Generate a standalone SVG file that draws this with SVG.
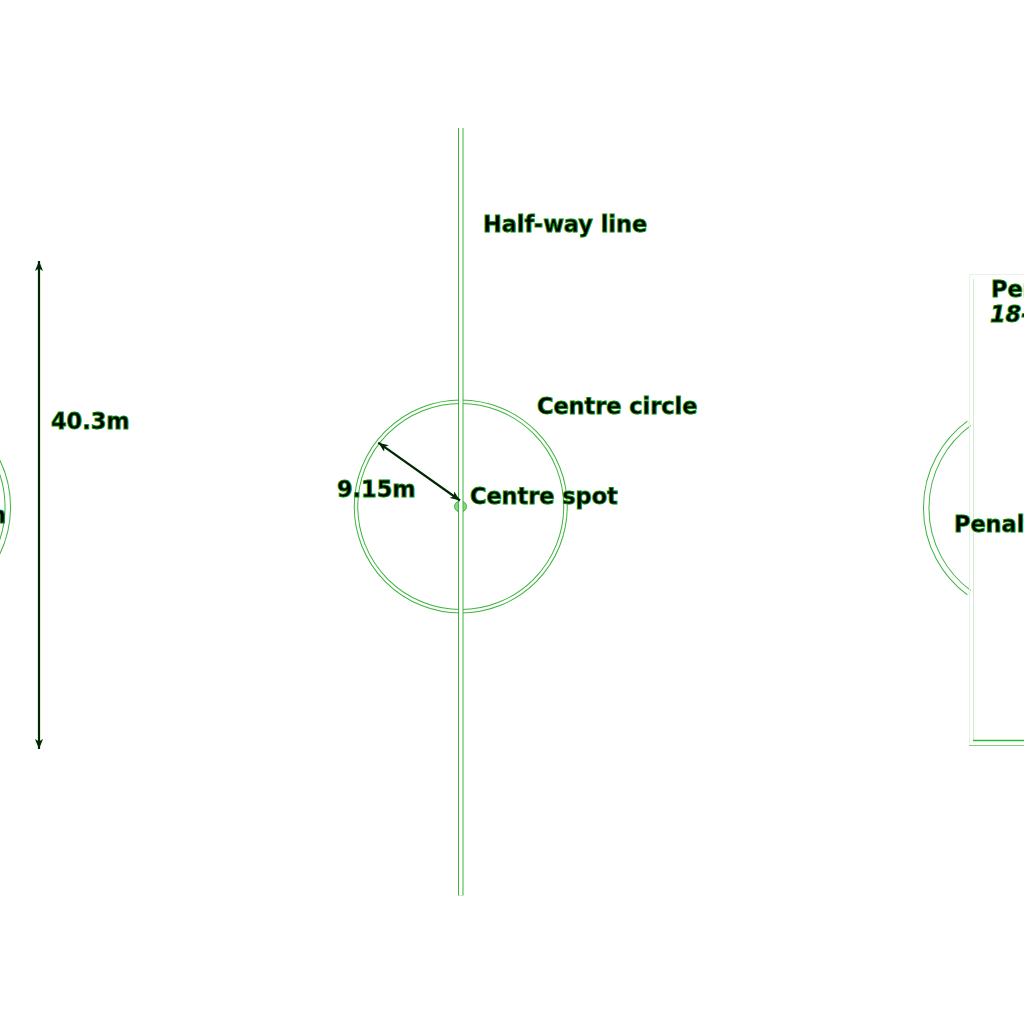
<svg xmlns="http://www.w3.org/2000/svg" width="1024" height="1024" viewBox="0 0 1024 1024">
  <style>
    .edge { fill: none; stroke: #3cb43c; }
    .core { fill: none; stroke: #ffffff; }
    .lbl { font-family: "DejaVu Sans", Verdana, sans-serif; font-weight: bold; font-size: 22.4px; fill: #000; stroke: #0a8a0a; stroke-width: 0.9px; }
    .dim { fill: none; stroke: #002800; stroke-width: 2.2; }
  </style>
  <defs>
    <marker id="arrow" viewBox="0 0 10 8" markerWidth="10" markerHeight="8" refX="10" refY="4" orient="auto-start-reverse" markerUnits="userSpaceOnUse">
      <path d="M0,0 L10,4 L0,8 L2.5,4 z" fill="#002800"/>
    </marker>
  </defs>
  <rect width="1024" height="1024" fill="#ffffff"/>

  <g id="left-penalty-arc">
    <path class="edge" d="M-35,422.4 A105,105 0 0 1 -35,591.6" stroke-width="6.5"/>
    <path class="core" d="M-35,422.4 A105,105 0 0 1 -35,591.6" stroke-width="4.5"/>
    <text class="lbl" x="6" y="523" text-anchor="end">n</text>
  </g>

  <g id="centre-circle">
    <circle class="edge" cx="460.75" cy="506.5" r="104.75" stroke-width="4.5"/>
    <circle class="core" cx="460.75" cy="506.5" r="104.75" stroke-width="2.5"/>
    <text class="lbl" x="537" y="414">Centre circle</text>
  </g>

  <g id="centre-spot">
    <ellipse cx="460.5" cy="506.5" rx="6" ry="5.5" fill="#86d886" stroke="#3cb43c" stroke-width="1"/>
  </g>

  <g id="half-way-line">
    <line class="edge" x1="460.75" y1="128" x2="460.75" y2="895.5" stroke-width="5.5"/>
    <line class="core" x1="460.75" y1="128" x2="460.75" y2="895.5" stroke-width="3.5"/>
    <text class="lbl" x="483" y="232">Half-way line</text>
  </g>

  <g id="centre-spot-label">
    <text class="lbl" x="470" y="503.5">Centre spot</text>
  </g>

  <g id="penalty-arc-right">
    <path class="edge" d="M969,423.4 A105,105 0 0 0 969,592.6" stroke-width="6.5"/>
    <path class="core" d="M969,423.4 A105,105 0 0 0 969,592.6" stroke-width="4.5"/>
  </g>

  <g id="penalty-area">
    <path d="M969.5,745 V274.5 H1030" fill="none" stroke="#e6f3e6" stroke-width="1"/>
    <path d="M973.5,279 V740" fill="none" stroke="#d4ecd4" stroke-width="1"/>
    <line x1="969" y1="745.5" x2="1030" y2="745.5" stroke="#86cc86" stroke-width="1.2"/>
    <line x1="973" y1="740.5" x2="1030" y2="740.5" stroke="#33b833" stroke-width="1.4"/>
    <text class="lbl" x="991" y="297">Pen</text>
    <text class="lbl" x="990" y="321.5" font-style="italic">18-</text>
  </g>

  <g id="penalty-label">
    <text class="lbl" x="954" y="531.5">Penalt</text>
  </g>

  <g id="connectors">
    <line class="dim" x1="39" y1="261" x2="39" y2="749" marker-start="url(#arrow)" marker-end="url(#arrow)"/>
    <line class="dim" x1="378.3" y1="442.7" x2="460" y2="500.5" marker-start="url(#arrow)" marker-end="url(#arrow)"/>
  </g>

  <g id="dimension-labels">
    <text class="lbl" x="51" y="429">40.3m</text>
    <text class="lbl" x="337" y="497">9.15m</text>
  </g>
</svg>
